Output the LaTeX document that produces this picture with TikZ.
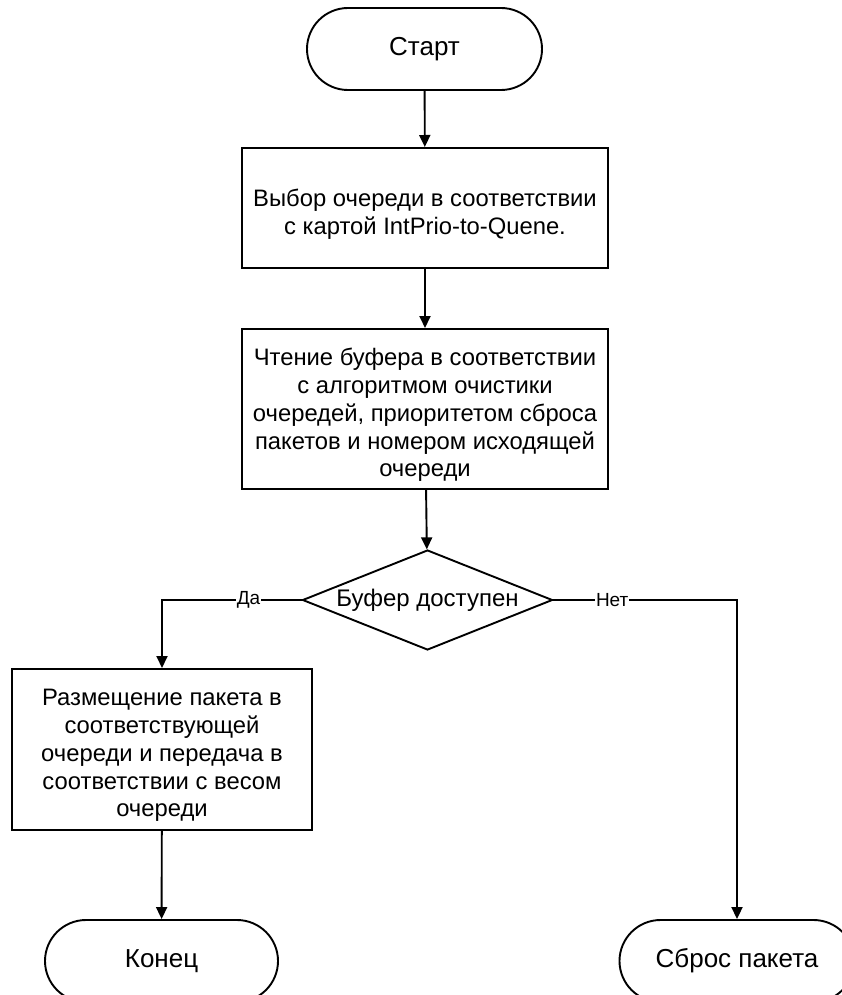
\documentclass[tikz,border=0pt]{standalone}
\usepackage{fontspec}
\setmainfont{Liberation Sans}
\usetikzlibrary{shapes.geometric,shapes.misc,arrows.meta}
\begin{document}
\begin{tikzpicture}[x=1pt,y=-1pt,
  boxfont/.style={font=\fontsize{23.8}{27.8}\selectfont},
  term/.style={draw, line width=1.9pt, rounded rectangle, minimum width=235pt, minimum height=82pt, inner sep=0pt, font=\fontsize{26}{30}\selectfont},
  proc/.style={draw, line width=2pt, rectangle, inner sep=0pt},
  intext/.style={align=center, boxfont, yshift=-6pt},
  dec/.style={draw, line width=1.9pt, diamond, aspect=2.5, minimum width=250pt, minimum height=100pt, inner sep=0pt, font=\fontsize{24}{28}\selectfont},
  conn/.style={line width=1.9pt, -{Triangle[length=12pt,width=11pt]}},
  lbl/.style={fill=white, inner sep=1pt, font=\fontsize{19}{22}\selectfont}
]
\useasboundingbox (0,0) rectangle (842,995);
\clip (0,0) rectangle (842,995);
\node[term] (start) at (424.5,49) {Старт};
\node[proc, minimum width=366pt, minimum height=120pt,
  label={[intext]center:Выбор очереди в соответствии\\с картой IntPrio-to-Quene.}] (b1) at (425,208) {};
\node[proc, minimum width=366pt, minimum height=160pt,
  label={[intext]center:Чтение буфера в соответствии\\с алгоритмом очистики\\очередей, приоритетом сброса\\пакетов и номером исходящей\\очереди}] (b2) at (425,409) {};
\node[dec] (d) at (427.5,600) {\raisebox{-5pt}{\makebox[0pt]{Буфер доступен}}};
\node[proc, minimum width=300pt, minimum height=161pt,
  label={[intext]center:Размещение пакета в\\соответствующей\\очереди и передача в\\соответствии с весом\\очереди}] (b3) at (162,749.5) {};
\node[term, minimum width=233pt] (end) at (161.5,961) {Конец};
\node[term] (drop) at (737,961) {Сброс пакета};
\draw[conn] (start) -- (b1);
\draw[conn] (b1) -- (b2);
\draw[conn] (b2) -- (d);
\draw[conn] (d.west) -| node[lbl, pos=0.19] (yes) {Да} (b3.north);
\draw[conn] (d.east) -| node[lbl, pos=0.16] (no) {Нет} (drop.north);
\draw[conn] (b3) -- (end);
\end{tikzpicture}
\end{document}
